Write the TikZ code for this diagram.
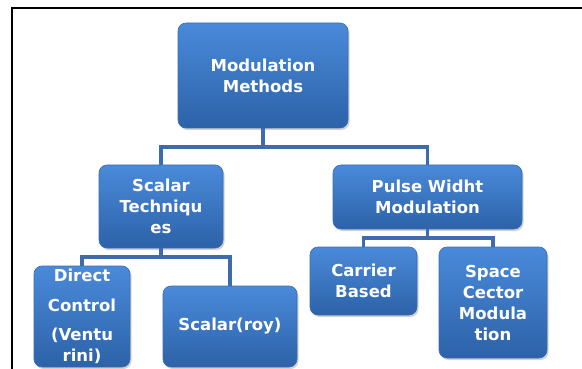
\documentclass[tikz,border=0pt]{standalone}
\usepackage{fontspec}
\setmainfont{DejaVu Sans}
\usetikzlibrary{shadows}
\definecolor{boxtop}{RGB}{74,138,218}
\definecolor{boxbot}{RGB}{44,98,168}
\definecolor{boxedge}{RGB}{58,108,178}
\definecolor{conncol}{RGB}{60,108,174}
\tikzset{
  blbox/.style={rounded corners=8pt, top color=boxtop, bottom color=boxbot,
    draw=boxedge, line width=0.6pt, text=white, align=center,
    font=\bfseries\fontsize{16.5}{21}\selectfont, inner sep=0pt,
    drop shadow={shadow xshift=1.5pt, shadow yshift=-2pt, opacity=0.35}},
  conn/.style={draw=conncol, line width=3.5pt}
}
\begin{document}
\begin{tikzpicture}[x=1pt,y=-1pt]
\useasboundingbox (0,0) rectangle (582,369);
\fill[white] (0,0) rectangle (582,369);
\draw[line width=2pt] (582,8) -- (12,8) -- (12,369);
\node[blbox, minimum width=170pt, minimum height=105pt] (mm) at (263,75.5) {Modulation\\Methods};
\node[blbox, minimum width=124pt, minimum height=83pt] (st) at (161,206.5) {Scalar\\Techniqu\\es};
\node[blbox, minimum width=189pt, minimum height=64pt] (pwm) at (427.5,197) {Pulse Widht\\Modulation};
\coordinate (j1) at (263,147);
\coordinate (j2) at (161,257);
\coordinate (j3) at (427.5,238);
\draw[conn] (mm.south) -- (j1);
\draw[conn] (j1) -| (st.north);
\draw[conn] (j1) -| (pwm.north);
\draw[conn] (st.south) -- (j2);
\draw[conn] (pwm.south) -- (j3);
\node[blbox, minimum width=96pt, minimum height=101pt] (dc) at (82,316.5) {Direct\\[9pt]Control\\[8pt](Ventu\\rini)};
\node[blbox, minimum width=134pt, minimum height=81pt] (sr) at (230,326.5) {Scalar(roy)};
\node[blbox, minimum width=107pt, minimum height=68pt] (cb) at (363.5,281) {Carrier\\Based};
\node[blbox, minimum width=108pt, minimum height=111pt] (sc) at (493,302.5) {Space\\Cector\\Modula\\tion};
\draw[conn] (j2) -| (dc.north);
\draw[conn] (j2) -| (sr.north);
\draw[conn] (j3) -| (cb.north);
\draw[conn] (j3) -| (sc.north);
\end{tikzpicture}
\end{document}
